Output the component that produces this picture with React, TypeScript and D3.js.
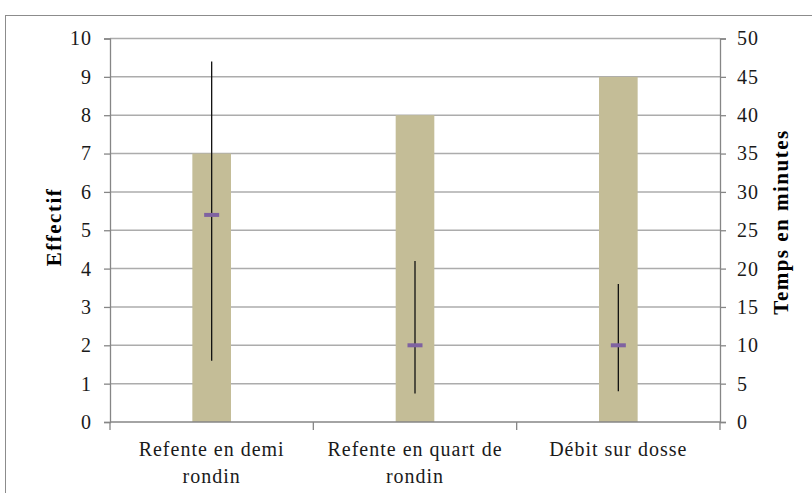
import React, { useEffect, useRef } from 'react';
import * as d3 from 'd3';

// data
const categories = ['Refente en demi rondin', 'Refente en quart de rondin', 'Débit sur dosse'];
const categoryLines = [['Refente en demi', 'rondin'], ['Refente en quart de', 'rondin'], ['Débit sur dosse']];
const effectif = [7, 8, 9];
const tempsMoyen = [27, 10, 10];
const tempsMin = [8, 3.7, 4];
const tempsMax = [47, 21, 18];
const leftTicks = [0, 1, 2, 3, 4, 5, 6, 7, 8, 9, 10];
const rightTicks = [0, 5, 10, 15, 20, 25, 30, 35, 40, 45, 50];

const App: React.FC = () => {
  const svgRef = useRef<SVGSVGElement>(null);

  useEffect(() => {
    document.body.style.margin = '0';
    if (!svgRef.current) return;
    const svg = d3.select(svgRef.current);
    svg.selectAll('*').remove();

    const W = 812, H = 493;
    const left = 110, right = 720, top = 38.5, bottom = 422;
    const font = "'Liberation Serif', 'Times New Roman', serif";

    svg.attr('width', W).attr('height', H);

    // outer chart border
    svg.append('rect')
      .attr('x', 5.5).attr('y', 15.5)
      .attr('width', 830).attr('height', 520)
      .attr('fill', 'white')
      .attr('stroke', '#8c8c8c');

    const x = d3.scaleBand().domain(categories).range([left, right]);
    const yL = d3.scaleLinear().domain([0, 10]).range([bottom, top]);
    const yR = d3.scaleLinear().domain([0, 50]).range([bottom, top]);

    // gridlines
    svg.append('g').selectAll('line')
      .data(leftTicks.filter(d => d > 0))
      .enter().append('line')
      .attr('x1', left).attr('x2', right)
      .attr('y1', d => yL(d)).attr('y2', d => yL(d))
      .attr('stroke', '#acacac').attr('stroke-width', 1.5);

    // bars
    const barW = x.bandwidth() * 0.19;
    svg.append('g').selectAll('rect')
      .data(categories)
      .enter().append('rect')
      .attr('x', d => (x(d) || 0) + x.bandwidth() / 2 - barW / 2)
      .attr('y', (d, i) => yL(effectif[i]))
      .attr('width', barW)
      .attr('height', (d, i) => bottom - yL(effectif[i]))
      .attr('fill', '#c4bd97');

    // axes
    const axisColor = '#868686';
    const gL = svg.append('g').attr('transform', `translate(${left},0)`)
      .call(d3.axisLeft(yL).tickValues(leftTicks).tickSize(6).tickPadding(12).tickFormat(d3.format('d')));
    const gR = svg.append('g').attr('transform', `translate(${right},0)`)
      .call(d3.axisRight(yR).tickValues(rightTicks).tickSize(6).tickPadding(11).tickFormat(d3.format('d')));
    const gB = svg.append('g').attr('transform', `translate(0,${bottom})`)
      .call(d3.axisBottom(x).tickValues([]).tickSizeOuter(0));

    [gL, gR, gB].forEach(g => {
      g.attr('font-family', null).attr('font-size', null);
      g.select('.domain').attr('stroke', axisColor).attr('stroke-width', 1.3);
      g.selectAll('.tick line').attr('stroke', axisColor).attr('stroke-width', 1.3);
      g.selectAll('.tick text')
        .attr('fill', '#1a1a1a')
        .style('font-family', font).style('font-size', '20px').style('letter-spacing', '1px');
    });
    gB.select('.domain').attr('d', `M${left},0H${right}`);

    // category boundary ticks
    gB.selectAll('.cat-tick')
      .data(d3.range(categories.length + 1))
      .enter().append('line')
      .attr('x1', i => left + i * x.step()).attr('x2', i => left + i * x.step())
      .attr('y1', 0).attr('y2', 8)
      .attr('stroke', axisColor).attr('stroke-width', 1.3);

    // category labels
    categories.forEach((c, i) => {
      const cx = (x(c) || 0) + x.bandwidth() / 2;
      const t = svg.append('text')
        .attr('x', cx)
        .attr('y', bottom + 34)
        .attr('text-anchor', 'middle')
        .attr('fill', '#1a1a1a')
        .style('font-family', font).style('font-size', '20px').style('letter-spacing', '1px');
      categoryLines[i].forEach((line, j) => {
        t.append('tspan')
          .attr('x', cx)
          .attr('dy', j === 0 ? 0 : 27)
          .text(line);
      });
    });

    // error bars (minutes, right axis)
    const eg = svg.append('g');
    categories.forEach((c, i) => {
      const cx = (x(c) || 0) + x.bandwidth() / 2;
      eg.append('line')
        .attr('x1', cx).attr('x2', cx)
        .attr('y1', yR(tempsMin[i])).attr('y2', yR(tempsMax[i]))
        .attr('stroke', '#111').attr('stroke-width', 1.3);
      eg.append('rect')
        .attr('x', cx - 7.5).attr('y', yR(tempsMoyen[i]) - 2)
        .attr('width', 15).attr('height', 4)
        .attr('fill', '#7f62a1');
    });

    // axis titles
    svg.append('text')
      .attr('transform', 'translate(61,227) rotate(-90)')
      .attr('text-anchor', 'middle')
      .style('font-family', font).style('font-size', '21px').style('font-weight', 'bold').style('letter-spacing', '1.5px')
      .text('Effectif');
    svg.append('text')
      .attr('transform', 'translate(788,222) rotate(-90)')
      .attr('text-anchor', 'middle')
      .style('font-family', font).style('font-size', '21px').style('font-weight', 'bold').style('letter-spacing', '1.5px')
      .text('Temps en minutes');
  }, []);

  return <svg ref={svgRef} style={{ display: 'block' }}></svg>;
};

export default App;
